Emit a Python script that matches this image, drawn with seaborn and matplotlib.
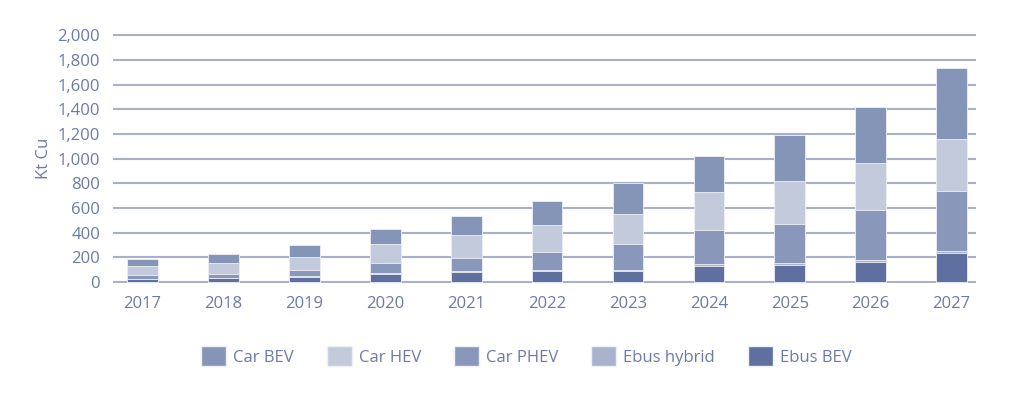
import matplotlib
matplotlib.use("Agg")
import matplotlib.pyplot as plt
import seaborn as sns
import numpy as np
import pandas as pd
from matplotlib.patches import Patch

sns.set_style("white")
plt.rcParams['font.family'] = ['Open Sans', 'DejaVu Sans']

years = ['2017', '2018', '2019', '2020', '2021', '2022', '2023', '2024', '2025', '2026', '2027']
ebus_bev = [24, 32, 42, 65, 80, 88, 92, 134, 142, 164, 239]
ebus_hybrid = [4, 4, 5, 6, 6, 7, 8, 9, 12, 11, 12]
car_phev = [25, 30, 50, 85, 106, 147, 205, 282, 320, 410, 488]
car_hev = [75, 89, 108, 153, 191, 218, 247, 304, 349, 382, 425]
car_bev = [60, 75, 94, 121, 153, 194, 250, 296, 371, 452, 573]

series = ['Car BEV', 'Car HEV', 'Car PHEV', 'Ebus hybrid', 'Ebus BEV']
colors = {'Car BEV': '#8495b8', 'Car HEV': '#c3cadc', 'Car PHEV': '#8997bb',
          'Ebus hybrid': '#a9b3cd', 'Ebus BEV': '#5f70a0'}
text_color = '#6b7aa7'
grid_color = '#a7b1cc'

df = pd.DataFrame({'year': years, 'Ebus BEV': ebus_bev, 'Ebus hybrid': ebus_hybrid,
                   'Car PHEV': car_phev, 'Car HEV': car_hev, 'Car BEV': car_bev})

# stacking bottom -> top
stack = ['Ebus BEV', 'Ebus hybrid', 'Car PHEV', 'Car HEV', 'Car BEV']
cum = df[stack].cumsum(axis=1)

fig = plt.figure(figsize=(10.24, 3.94), dpi=100)
ax = fig.add_axes([0.110, (394 - 283.5) / 394, 0.843, (282 - 32.5) / 394])

# draw tallest cumulative first so lower layers sit on top
for name in reversed(stack):
    sns.barplot(x=df['year'], y=cum[name], color=colors[name], saturation=1,
                width=0.38, edgecolor='#eef0f6', linewidth=0.6, ax=ax)

ax.set_ylim(-12, 2012)
ax.set_xlim(-0.37, 10.3)
ax.set_yticks(np.arange(0, 2001, 200))
ax.set_yticklabels([f'{v:,}' for v in range(0, 2001, 200)])
ax.yaxis.grid(True, color=grid_color, linewidth=1.5)
ax.set_axisbelow(True)
for s in ax.spines.values():
    s.set_visible(False)
ax.tick_params(axis='both', length=0, labelsize=12, colors=text_color)
ax.tick_params(axis='y', pad=9)
ax.tick_params(axis='x', pad=9)
ax.set_xlabel('')
ax.set_ylabel('Kt Cu', color=text_color, fontsize=12, labelpad=4)

handles = [Patch(facecolor=colors[s], edgecolor='#eef0f6', label=s) for s in series]
fig.legend(handles=handles, loc='center', bbox_to_anchor=(0.514, 0.096), ncol=5,
           frameon=False, fontsize=12, labelcolor=text_color,
           handlelength=1.5, handleheight=1.45, columnspacing=2.0, handletextpad=0.4)

fig.savefig('out.png', dpi=100, facecolor='white')
